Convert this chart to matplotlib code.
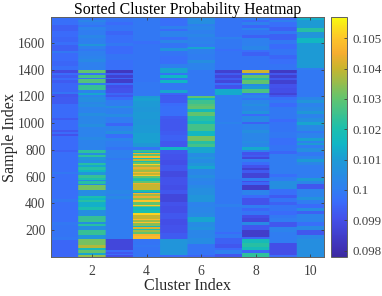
import matplotlib
matplotlib.use("Agg")
import matplotlib.pyplot as plt
import numpy as np
from matplotlib.colors import LinearSegmentedColormap

plt.rcParams['font.family'] = ['Liberation Serif', 'DejaVu Serif']

n_rows = 240
n_samples = 1792
x_ticks = [2, 4, 6, 8, 10]
y_ticks = [200, 400, 600, 800, 1000, 1200, 1400, 1600]
cbar_ticks = [0.098, 0.099, 0.1, 0.101, 0.102, 0.103, 0.104, 0.105]
cbar_labels = ['0.098', '0.099', '0.1', '0.101', '0.102', '0.103', '0.104', '0.105']
clim = (0.09779, 0.1057)

# (rows, value) runs, top of the heatmap downwards
col1 = [(8, .0997), (6, .0994), (6, .0996), (5, .0995), (3, .0997), (6, .0994), (2, .0999), (8, .0996), (5, .0995),
        (4, .0997), (3, .0989), (2, .0996), (3, .0993), (2, .0996), (3, .0993), (9, .0995), (2, .0998), (3, .0992),
        (7, .0993), (14, .0996), (2, .0993), (10, .0996), (2, .0992), (2, .0996), (2, .0991), (14, .0996), (2, .0994),
        (20, .0997), (2, .0999), (25, .0997), (3, .0999), (20, .0997), (3, .0999), (12, .0998), (3, .0999), (4, .0995)]
col2 = [(3, .0998), (2, .1003), (3, .1000), (2, .0998), (3, .1002), (5, .1000), (3, .1003), (6, .1001), (2, .1008),
        (3, .1001), (2, .0999), (5, .1001), (3, .1002), (3, .1004), (8, .1001), (3, .1030), (2, .0998), (3, .1026),
        (1, .0998), (4, .1028), (2, .1000), (5, .1024), (3, .1002), (2, .1012), (2, .1002), (5, .1006), (2, .1003),
        (3, .1005), (6, .1002), (3, .1006), (8, .1003), (3, .1006), (10, .1002), (3, .1004), (10, .1002), (3, .1023),
        (2, .1005), (2, .1023), (3, .1009), (3, .1005), (2, .1022), (2, .1012), (3, .1022), (2, .1015), (3, .1008),
        (3, .1024), (2, .1020), (1, .1005), (3, .1022), (1, .1005), (5, .1032), (6, .1005), (2, .1020), (2, .1015),
        (2, .1022), (5, .1014), (3, .1020), (6, .1006), (6, .1024), (2, .1006), (2, .1022), (4, .1006), (5, .1024),
        (4, .1008), (6, .1032), (3, .1038), (2, .1018), (3, .1030), (2, .1012), (3, .1035)]
col3 = [(5, .0998), (3, .0996), (6, .0998), (4, .0995), (8, .0997), (3, .0999), (8, .0996), (6, .0998), (10, .0997),
        (3, .0983), (2, .0993), (3, .0986), (1, .0994), (4, .0985), (2, .0996), (3, .0990), (5, .0991), (2, .0995),
        (2, .0992), (3, .0996), (6, .1000), (2, .1006), (6, .1001), (3, .1005), (6, .1000), (3, .0995), (5, .1002),
        (3, .1006), (4, .0997), (3, .1002), (6, .1000), (3, .0998), (8, .1001), (2, .0999), (30, .1001), (4, .1003),
        (2, .1001), (3, .1004), (40, .1000), (11, .0988), (2, .0996), (2, .0992), (1, .0996), (3, .0990), (1, .0989)]
col4 = [(24, .0999), (3, .0997), (26, .0998), (12, .0998), (14, .0999), (2, .1010), (3, .1011), (6, .1010), (5, .1009),
        (7, .1010), (6, .1009), (8, .1010), (10, .1011), (4, .1009), (3, .0998), (2, .1024), (1, .1014), (1, .1044),
        (2, .1030), (2, .1048), (1, .1018), (2, .1040), (1, .1020), (2, .1030), (1, .1052), (2, .1036), (2, .1044),
        (1, .1040), (2, .1036), (1, .1048), (2, .1040), (1, .1050), (2, .1030), (1, .1022), (2, .1020), (2, .1030),
        (1, .1044), (6, .1040), (2, .1020), (1, .1010), (1, .1046), (2, .1036), (2, .1044), (2, .1034), (2, .1050),
        (3, .1030), (1, .1050), (1, .1030), (3, .1016), (3, .1020), (2, .1052), (4, .1040), (1, .1048), (2, .1036),
        (1, .1050), (3, .1034), (1, .1016), (2, .1042), (1, .1020), (2, .1036), (2, .1030), (2, .1046), (3, .1048),
        (6, .0998), (2, .0999), (10, .0998)]
col5 = [(3, .0996), (6, .0997), (3, .1001), (2, .0996), (6, .1002), (3, .0997), (3, .1003), (5, .0998), (3, .1007),
        (5, .0998), (8, .0997), (4, .1001), (5, .1012), (2, .0998), (3, .1015), (2, .0998), (3, .1015), (7, .0999),
        (3, .1012), (2, .0995), (1, .0992), (7, .0993), (3, .0996), (10, .0997), (3, .0993), (12, .0992), (4, .0993),
        (6, .0994), (6, .0992), (3, .1016), (4, .0992), (6, .0991), (5, .0990), (6, .0992), (6, .0989), (8, .0991),
        (5, .0990), (4, .0992), (8, .0988), (4, .0991), (7, .0990), (6, .0992), (6, .0990), (8, .0991), (6, .0993),
        (16, .1008), (2, .0996)]
col6 = [(3, .1004), (4, .1006), (2, .1001), (4, .1003), (4, .1001), (3, .1003), (4, .1001), (3, .1002), (3, .1000),
        (2, .1012), (5, .1001), (6, .1000), (3, .1006), (7, .1002), (26, .0999), (2, .1030), (2, .1016), (2, .1025),
        (2, .1025), (2, .1028), (3, .1030), (3, .1018), (4, .1030), (5, .1022), (3, .1018), (7, .1026),
        (5, .1016), (5, .1032), (3, .1022), (3, .1026), (3, .1012), (3, .1012), (4, .1005), (2, .1008), (4, .1005),
        (3, .1008), (3, .1012), (6, .1003), (3, .1006), (3, .1003), (4, .1002), (3, .1004), (7, .1006), (7, .1008),
        (5, .1002), (6, .1003), (4, .1004), (5, .1012), (5, .1005), (3, .1007), (8, .1003), (6, .1005), (11, .0998),
        (5, .0995)]
col7 = [(20, .0998), (2, .1001), (10, .0999), (2, .0997), (19, .0998), (3, .0986), (2, .0993), (3, .0988), (2, .0993),
        (3, .0988), (2, .0996), (3, .0991), (1, .0992), (6, .1013), (7, .1000), (20, .1000), (2, .1002), (25, .1000),
        (30, .1000), (25, .0999), (3, .1001), (25, .0999), (2, .0996), (4, .0999), (6, .0994), (4, .0992), (2, .0996),
        (4, .1001), (3, .0992)]
col8 = [(3, .1000), (2, .0996), (3, .1001), (3, .0995), (2, .1001), (5, .0998), (3, .0994), (8, .1001), (4, .1003),
        (2, .0997), (4, .0994), (4, .0998), (10, .0998), (3, .1041), (2, .0999), (3, .1030), (2, .1022), (4, .1030),
        (2, .1005), (3, .1010), (4, .1027), (2, .0998), (3, .1002), (2, .0998), (4, .1003), (2, .1006), (5, .1003),
        (3, .1007), (2, .0996), (6, .1004), (2, .0994), (6, .1002), (3, .1006), (8, .1003), (2, .1005), (4, .1003),
        (3, .1013), (2, .1000), (3, .0991), (2, .0993), (2, .0988), (3, .1000), (3, .0996), (3, .0991), (2, .0986),
        (3, .0993), (5, .0987), (3, .1000), (1, .0990), (3, .0995), (5, .0985), (5, .1002), (3, .0996), (7, .0991),
        (3, .1000), (3, .0995), (4, .0998), (3, .0990), (4, .0988), (3, .1004), (5, .0992), (7, .0985), (2, .0995),
        (4, .1018), (4, .1022), (3, .1018), (3, .0995), (4, .1023)]
col9 = [(3, .0996), (2, .1001), (5, .0997), (4, .0994), (3, .0999), (6, .0994), (4, .0999), (5, .0996), (6, .0998),
        (4, .0995), (5, .0997), (6, .0998), (3, .0984), (2, .0992), (3, .0986), (2, .0992), (4, .0986), (4, .0991),
        (5, .0990), (2, .0987), (2, .0992), (3, .0997), (3, .0999), (4, .0996), (12, .0999), (3, .0996), (10, .0998),
        (6, .0999), (7, .0997), (6, .0998), (3, .0995), (20, .1000), (3, .0997), (4, .1000), (8, .1006), (6, .0997),
        (3, .0993), (4, .0998), (3, .0994), (6, .0998), (4, .0996), (3, .0999), (4, .1000), (5, .0992), (5, .1002),
        (8, .1000), (3, .1000), (12, .0990), (6, .0996)]
col10 = [(3, .1014), (8, .1010), (4, .1022), (6, .1008), (5, .1016), (25, .1010), (2, .1000), (2, .0999), (25, .0999),
         (3, .1003), (3, .1008), (4, .1002), (4, .1004), (3, .1009), (4, .1002), (4, .1006), (3, .1012), (6, .1004),
         (2, .0999), (5, .1002), (3, .1011), (2, .1002), (2, .1010), (3, .1000), (4, .1006), (4, .0999), (3, .1002),
         (3, .1010), (3, .1003), (13, .1000), (3, .1010), (3, .1003), (5, .0992), (8, .1002), (3, .1007), (4, .1000),
         (4, .0996), (3, .1005), (3, .0994), (8, .1002), (4, .0997), (4, .1004), (5, .0992), (4, .1003), (18, .1006)]
columns = [col1, col2, col3, col4, col5, col6, col7, col8, col9, col10]

# parula-like colours as they show on the colorbar
parula_stops = [(0, '#3b2aa0'), (.028, '#3f2fb0'), (.158, '#4450ea'), (.23, '#3a6cfb'), (.284, '#2f7ff0'),
                (.41, '#1d9cd4'), (.47, '#10b6c6'), (.536, '#1cbfae'), (.662, '#62c46e'), (.788, '#c8b52e'),
                (.85, '#f5ad30'), (.914, '#fdc52a'), (1, '#f8fa10')]
parula = LinearSegmentedColormap.from_list('parula', parula_stops, N=256)


def expand(runs):
    lengths = [r[0] for r in runs]
    values = [r[1] for r in runs]
    out = np.repeat(values, lengths)
    if len(out) < n_rows:
        out = np.append(out, np.full(n_rows - len(out), out[-1]))
    return out[:n_rows]


Z = np.column_stack([expand(c) for c in columns])
# widen the columns so the soft resampling only blends along the stripes
Z_wide = np.repeat(Z, 27, axis=1)

fig = plt.figure(figsize=(3.82, 2.96), dpi=100)
ax = fig.add_axes([51 / 382, 39 / 296, 273 / 382, 240 / 296])
cax = fig.add_axes([331 / 382, 39 / 296, 16 / 382, 240 / 296])

im = ax.imshow(Z_wide, cmap=parula, vmin=clim[0], vmax=clim[1], aspect='auto', origin='upper',
               extent=[0.5, 10.5, 0.5, n_samples], interpolation='hanning', interpolation_stage='rgba')
ax.set_xticks(x_ticks)
ax.set_yticks(y_ticks)
ax.tick_params(direction='in', length=2.5, width=0.6, top=True, right=True, labelsize=9.8,
               colors='#404040', pad=6)
ax.tick_params(axis='y', pad=4)
for s in ax.spines.values():
    s.set_linewidth(0.7)
    s.set_color('#606060')
ax.set_title('Sorted Cluster Probability Heatmap', fontsize=11.4, color='black', pad=2)
ax.set_xlabel('Cluster Index', fontsize=11.6, color='#262626', labelpad=0)
ax.set_ylabel('Sample Index', fontsize=11.6, color='#262626', labelpad=0)

cb = fig.colorbar(im, cax=cax)
cb.set_ticks(cbar_ticks)
cb.set_ticklabels(cbar_labels)
cb.ax.tick_params(direction='in', length=2.5, width=0.6, labelsize=9.4, colors='#404040', pad=4)
cb.outline.set_linewidth(0.7)
cb.outline.set_edgecolor('#606060')

fig.savefig('out.png', dpi=100)
